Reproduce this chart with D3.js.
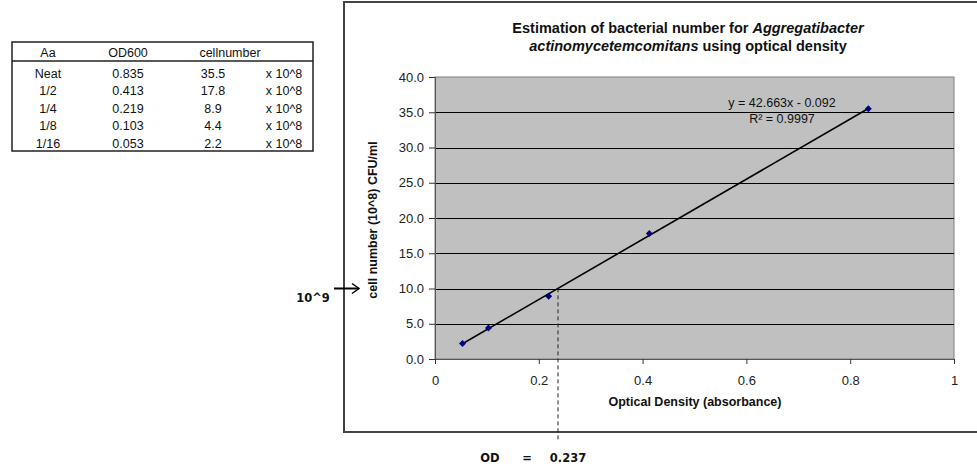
<!DOCTYPE html>
<html>
<head>
<meta charset="utf-8">
<script src="https://cdn.jsdelivr.net/npm/d3@7"></script>
<style>
  body { margin: 0; background: #fff; }
  svg { display: block; font-family: "Liberation Sans", Arial, sans-serif; }
</style>
</head>
<body>
<div id="chart"></div>
<script>
// table data
var dilutions = ["Neat", "1/2", "1/4", "1/8", "1/16"];
var od600 = [0.835, 0.413, 0.219, 0.103, 0.053];
var cells = [35.5, 17.8, 8.9, 4.4, 2.2];
var cellLabels = ["35.5", "17.8", "8.9", "4.4", "2.2"];
var unitLabel = "x 10^8";

// axes
var xTicks = [0, 0.2, 0.4, 0.6, 0.8, 1];
var yTicks = [0, 5, 10, 15, 20, 25, 30, 35, 40];

// trendline
var slope = 42.663, intercept = -0.092;
var odMark = 0.237;

var svg = d3.select('#chart')
   .append('svg')
   .attr('width', 977)
   .attr('height', 467);

// ---- table at top left ----
var tbl = svg.append('g');
tbl.append('rect')
   .attr('x', 12).attr('y', 42).attr('width', 301).attr('height', 109)
   .attr('fill', 'none').attr('stroke', '#222').attr('stroke-width', 1.5);
tbl.append('line')
   .attr('x1', 12).attr('x2', 313).attr('y1', 61).attr('y2', 61)
   .attr('stroke', '#222').attr('stroke-width', 1.5);

var head = [["Aa", 48], ["OD600", 128], ["cellnumber", 230]];
tbl.selectAll('text.head').data(head).enter().append('text')
   .attr('class', 'head')
   .attr('x', function(d){ return d[1]; })
   .attr('y', 57)
   .attr('text-anchor', 'middle')
   .attr('font-size', 12.5)
   .attr('fill', '#111')
   .text(function(d){ return d[0]; });

var rowY = d3.scaleLinear().domain([0, 4]).range([77.5, 147.5]);
var rows = tbl.selectAll('g.row').data(dilutions).enter().append('g')
   .attr('class', 'row')
   .attr('transform', function(d, i){ return 'translate(0,' + rowY(i) + ')'; })
   .attr('font-size', 12.5)
   .attr('fill', '#111')
   .attr('text-anchor', 'middle');
rows.append('text').attr('x', 48).text(function(d){ return d; });
rows.append('text').attr('x', 128).text(function(d, i){ return od600[i].toFixed(3); });
rows.append('text').attr('x', 213).text(function(d, i){ return cellLabels[i]; });
rows.append('text').attr('x', 284).text(unitLabel);

// ---- chart frame ----
svg.append('rect')
   .attr('x', 344).attr('y', 2).attr('width', 640).attr('height', 430)
   .attr('fill', '#fff').attr('stroke', '#444').attr('stroke-width', 2);

var x = d3.scaleLinear().domain([0, 1]).range([435, 954]);
var y = d3.scaleLinear().domain([0, 40]).range([359, 77]);

// plot area
svg.append('rect')
   .attr('x', x(0)).attr('y', y(40))
   .attr('width', x(1) - x(0)).attr('height', y(0) - y(40))
   .attr('fill', '#c0c0c0').attr('stroke', '#808080').attr('stroke-width', 1);

// gridlines
svg.selectAll('line.grid').data(yTicks.slice(1, -1)).enter().append('line')
   .attr('class', 'grid')
   .attr('x1', x(0)).attr('x2', x(1))
   .attr('y1', function(d){ return Math.round(y(d)) + 0.5; })
   .attr('y2', function(d){ return Math.round(y(d)) + 0.5; })
   .attr('stroke', '#000').attr('stroke-width', 1);

// axes
var yAxis = d3.axisLeft(y).tickValues(yTicks).tickSize(6).tickPadding(5)
   .tickFormat(d3.format('.1f'));
var gy = svg.append('g').attr('transform', 'translate(' + x(0) + ',0)').call(yAxis);
var xAxis = d3.axisBottom(x).tickValues(xTicks).tickSize(5).tickPadding(12)
   .tickFormat(function(d){ return d === 0 || d === 1 ? d : d.toFixed(1); });
var gx = svg.append('g').attr('transform', 'translate(0,' + y(0) + ')').call(xAxis);
[gx, gy].forEach(function(g){
   g.select('.domain').attr('stroke', '#555');
   g.selectAll('.tick line').attr('stroke', '#333');
   g.selectAll('.tick text')
      .attr('font-family', '"Liberation Sans", Arial, sans-serif')
      .attr('font-size', 13).attr('fill', '#222');
});

// trendline
var fit = function(v){ return slope * v + intercept; };
var xs = d3.extent(od600);
svg.append('line')
   .attr('x1', x(xs[0])).attr('y1', y(fit(xs[0])))
   .attr('x2', x(xs[1])).attr('y2', y(fit(xs[1])))
   .attr('stroke', '#000').attr('stroke-width', 1.6);

// points (square turned 45deg, like excel's diamond)
svg.selectAll('path.pt').data(od600).enter().append('path')
   .attr('class', 'pt')
   .attr('d', d3.symbol().type(d3.symbolSquare).size(24))
   .attr('transform', function(d, i){ return 'translate(' + x(d) + ',' + y(cells[i]) + ') rotate(45)'; })
   .attr('fill', '#000080');

// equation
svg.append('text')
   .attr('x', 782).attr('y', 107)
   .attr('text-anchor', 'middle').attr('font-size', 12.5).attr('fill', '#111')
   .text('y = 42.663x  - 0.092');
svg.append('text')
   .attr('x', 782).attr('y', 123)
   .attr('text-anchor', 'middle').attr('font-size', 12.5).attr('fill', '#111')
   .text('R\u00b2 = 0.9997');

// title
var title = svg.append('text')
   .attr('text-anchor', 'middle').attr('font-size', 14.5).attr('font-weight', 'bold')
   .attr('fill', '#111');
var t1 = title.append('tspan').attr('x', 688).attr('y', 33);
t1.append('tspan').text('Estimation of bacterial number for ');
t1.append('tspan').attr('font-style', 'italic').text('Aggregatibacter');
var t2 = title.append('tspan').attr('x', 688).attr('y', 51);
t2.append('tspan').attr('font-style', 'italic').text('actinomycetemcomitans');
t2.append('tspan').text(' using optical density');

// axis titles
svg.append('text')
   .attr('x', 695).attr('y', 406)
   .attr('text-anchor', 'middle').attr('font-size', 12.5).attr('font-weight', 'bold')
   .attr('fill', '#111')
   .text('Optical Density (absorbance)');
svg.append('text')
   .attr('transform', 'translate(377,220) rotate(-90)')
   .attr('text-anchor', 'middle').attr('font-size', 12.5).attr('font-weight', 'bold')
   .attr('fill', '#111')
   .text('cell number (10^8) CFU/ml');

// OD marker
svg.append('line')
   .attr('x1', x(odMark)).attr('x2', x(odMark))
   .attr('y1', y(fit(odMark))).attr('y2', 441)
   .attr('stroke', '#222').attr('stroke-width', 1)
   .attr('stroke-dasharray', '4,3');

svg.append('g').attr('font-size', 11.5).attr('font-weight', 'bold').attr('fill', '#111')
   .attr('font-family', '"DejaVu Sans", Arial, sans-serif')
   .selectAll('text').data([['OD', 490], ['=', 527], ['0.237', 568]]).enter().append('text')
   .attr('x', function(d){ return d[1]; }).attr('y', 462)
   .attr('text-anchor', 'middle')
   .text(function(d){ return d[0]; });

// 10^9 arrow
var ay = y(10);
svg.append('line')
   .attr('x1', 334).attr('x2', 359).attr('y1', ay).attr('y2', ay)
   .attr('stroke', '#000').attr('stroke-width', 2);
svg.append('path')
   .attr('d', 'M' + 352 + ',' + (ay - 5) + 'L' + 359 + ',' + ay + 'L' + 352 + ',' + (ay + 5))
   .attr('fill', 'none').attr('stroke', '#000').attr('stroke-width', 1.5);
svg.append('text')
   .attr('x', 313).attr('y', 302)
   .attr('text-anchor', 'middle').attr('font-size', 11.5).attr('font-weight', 'bold')
   .attr('fill', '#111')
   .attr('font-family', '"DejaVu Sans", Arial, sans-serif')
   .text('10^9');
</script>
</body>
</html>
